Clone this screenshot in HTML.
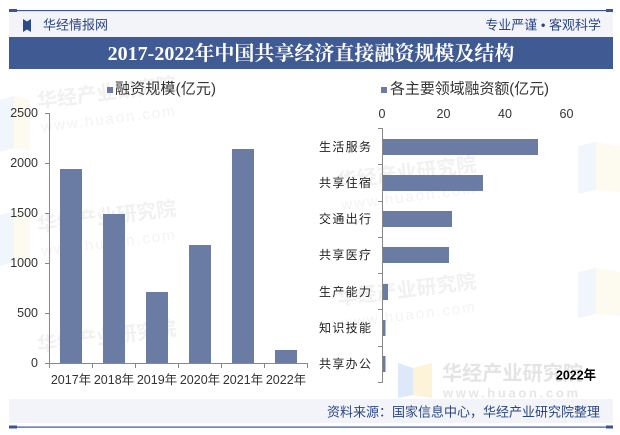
<!DOCTYPE html>
<html><head><meta charset="utf-8"><style>
html,body{margin:0;padding:0;background:#fff;}
svg{display:block;}
text{font-family:"Liberation Sans","Noto Sans CJK SC",sans-serif;}
</style></head><body>
<svg width="620" height="435" viewBox="0 0 620 435" xmlns="http://www.w3.org/2000/svg">
<rect x="0" y="0" width="620" height="435" fill="#fff"/>
<!-- faint watermarks -->
<g opacity="0.55">
<polygon points="0,100 14,96 14,148 0,152" fill="#e6eefa"/>
<polygon points="14,96 30,100 30,150 14,148" fill="#fdf6e2"/>
<polygon points="0,215 14,211 14,262 0,266" fill="#e6eefa"/>
<polygon points="14,211 30,215 30,264 14,262" fill="#fdf6e2"/>
<polygon points="578,146 596,142 596,190 578,194" fill="#e6eefa"/>
<polygon points="596,142 620,146 620,192 596,190" fill="#fdf6e2"/>
<polygon points="578,272 596,268 596,314 578,318" fill="#e6eefa"/>
<polygon points="596,268 620,272 620,316 596,314" fill="#fdf6e2"/>
</g>
<g fill="#f1f1f1" font-size="20" font-weight="bold">
<text x="38" y="108" transform="rotate(-7 38 108)">华经产业研究院</text>
<text x="38" y="232" transform="rotate(-7 38 232)">华经产业研究院</text>
<text x="38" y="352" transform="rotate(-7 38 352)">华经产业研究院</text>
<text x="338" y="188" transform="rotate(-7 338 188)">华经产业研究院</text>
<text x="338" y="305" transform="rotate(-7 338 305)">华经产业研究院</text>
</g>
<g fill="#f3f3f3" font-size="15">
<text x="42" y="132" transform="rotate(-7 42 132)" letter-spacing="2">www.huaon.com</text>
<text x="42" y="256" transform="rotate(-7 42 256)" letter-spacing="2">www.huaon.com</text>
<text x="342" y="210" transform="rotate(-7 342 210)" letter-spacing="2">www.huaon.com</text>
<text x="342" y="328" transform="rotate(-7 342 328)" letter-spacing="2">www.huaon.com</text>
</g>
<!-- bottom right watermark -->
<polygon points="398,363 413,368 413,395 398,398" fill="#dde8fa"/>
<polygon points="413,368 432,363 432,398 413,395" fill="#fdf3d8"/>
<text x="442" y="374" dominant-baseline="central" font-size="20" font-weight="bold" fill="#e4e4e4" textLength="141" lengthAdjust="spacingAndGlyphs">华经产业研究院</text>
<text x="443" y="393" dominant-baseline="central" font-size="13" font-weight="bold" fill="#e6e6e6" textLength="135" lengthAdjust="spacing">www.huaon.com</text>

<!-- top line -->
<rect x="9" y="10" width="604" height="1.2" fill="#3b5692"/>
<rect x="9" y="9" width="8" height="3" fill="#3b5692"/>
<rect x="606" y="9" width="7" height="3" fill="#3b5692"/>
<!-- header band -->
<rect x="9" y="12" width="604" height="25" fill="#f2f4f9"/>
<polygon points="23,19 27,21.5 31,19 31,32 27,29.5 23,32" fill="#2d4a8c"/>
<text x="43" y="25" dominant-baseline="central" font-size="13" fill="#2b4585" textLength="65" lengthAdjust="spacing">华经情报网</text>
<text x="601" y="25" dominant-baseline="central" text-anchor="end" font-size="13" fill="#2b4585">专业严谨 • 客观科学</text>
<!-- title band -->
<rect x="9" y="37" width="604" height="32" fill="#405b94"/>
<text x="311" y="54" dominant-baseline="central" text-anchor="middle" font-size="20" font-weight="bold" fill="#fff" font-family="'Liberation Serif','Noto Serif CJK SC',serif" style="font-family:'Liberation Serif','Noto Serif CJK SC',serif">2017-2022年中国共享经济直接融资规模及结构</text>

<!-- left legend -->
<rect x="107" y="87" width="6" height="6" fill="#6a7ca4"/>
<text x="115" y="89" dominant-baseline="central" font-size="15" fill="#333" textLength="101" lengthAdjust="spacing">融资规模(亿元)</text>
<!-- right legend -->
<rect x="381" y="87" width="6" height="6" fill="#6a7ca4"/>
<text x="390" y="89" dominant-baseline="central" font-size="15" fill="#333" textLength="159" lengthAdjust="spacing">各主要领域融资额(亿元)</text>

<!-- left chart -->
<g stroke="#888" stroke-width="1" fill="none">
<line x1="49.5" y1="113" x2="49.5" y2="363.5"/>
<line x1="49" y1="363.5" x2="307.5" y2="363.5"/>
<line x1="45" y1="113.5" x2="49" y2="113.5"/>
<line x1="45" y1="163.5" x2="49" y2="163.5"/>
<line x1="45" y1="213.5" x2="49" y2="213.5"/>
<line x1="45" y1="263.5" x2="49" y2="263.5"/>
<line x1="45" y1="313.5" x2="49" y2="313.5"/>
<line x1="45" y1="363.5" x2="49" y2="363.5"/>
<line x1="49.5" y1="363" x2="49.5" y2="368"/>
<line x1="92.5" y1="363" x2="92.5" y2="368"/>
<line x1="135.5" y1="363" x2="135.5" y2="368"/>
<line x1="178.5" y1="363" x2="178.5" y2="368"/>
<line x1="221.5" y1="363" x2="221.5" y2="368"/>
<line x1="264.5" y1="363" x2="264.5" y2="368"/>
<line x1="307.5" y1="363" x2="307.5" y2="368"/>
</g>
<g font-size="12.5" fill="#333" text-anchor="end">
<text x="38" y="113" dominant-baseline="central">2500</text>
<text x="38" y="163" dominant-baseline="central">2000</text>
<text x="38" y="213" dominant-baseline="central">1500</text>
<text x="38" y="263" dominant-baseline="central">1000</text>
<text x="38" y="313" dominant-baseline="central">500</text>
<text x="38" y="363" dominant-baseline="central">0</text>
</g>
<g fill="#6a7ca4">
<rect x="60" y="169" width="22" height="194"/>
<rect x="103" y="214" width="22" height="149"/>
<rect x="146" y="292" width="22" height="71"/>
<rect x="189" y="245" width="22" height="118"/>
<rect x="232" y="149" width="22" height="214"/>
<rect x="275" y="350" width="22" height="13"/>
</g>
<g font-size="12.5" fill="#333" text-anchor="middle">
<text x="71" y="380" dominant-baseline="central">2017年</text>
<text x="114" y="380" dominant-baseline="central">2018年</text>
<text x="157" y="380" dominant-baseline="central">2019年</text>
<text x="200" y="380" dominant-baseline="central">2020年</text>
<text x="243" y="380" dominant-baseline="central">2021年</text>
<text x="286" y="380" dominant-baseline="central">2022年</text>
</g>

<!-- right chart -->
<g font-size="12.5" fill="#333" text-anchor="middle">
<text x="382" y="114" dominant-baseline="central">0</text>
<text x="443.5" y="114" dominant-baseline="central">20</text>
<text x="505" y="114" dominant-baseline="central">40</text>
<text x="566.5" y="114" dominant-baseline="central">60</text>
</g>
<g stroke="#888" stroke-width="1" fill="none">
<line x1="382.5" y1="128" x2="382.5" y2="383"/>
<line x1="378" y1="128.5" x2="382" y2="128.5"/>
<line x1="378" y1="164.5" x2="382" y2="164.5"/>
<line x1="378" y1="201.5" x2="382" y2="201.5"/>
<line x1="378" y1="237.5" x2="382" y2="237.5"/>
<line x1="378" y1="273.5" x2="382" y2="273.5"/>
<line x1="378" y1="309.5" x2="382" y2="309.5"/>
<line x1="378" y1="346.5" x2="382" y2="346.5"/>
<line x1="378" y1="382.5" x2="382" y2="382.5"/>
</g>
<g fill="#6a7ca4">
<rect x="383" y="139" width="155" height="16"/>
<rect x="383" y="175" width="100" height="16"/>
<rect x="383" y="211" width="69" height="16"/>
<rect x="383" y="247" width="66" height="16"/>
<rect x="383" y="284" width="5" height="16"/>
<rect x="383" y="320" width="2.5" height="16"/>
<rect x="383" y="356" width="2.5" height="16"/>
</g>
<g font-size="12" fill="#222">
<text x="319" y="147" dominant-baseline="central" textLength="52" lengthAdjust="spacing">生活服务</text>
<text x="319" y="183" dominant-baseline="central" textLength="52" lengthAdjust="spacing">共享住宿</text>
<text x="319" y="219" dominant-baseline="central" textLength="52" lengthAdjust="spacing">交通出行</text>
<text x="319" y="255" dominant-baseline="central" textLength="52" lengthAdjust="spacing">共享医疗</text>
<text x="319" y="292" dominant-baseline="central" textLength="52" lengthAdjust="spacing">生产能力</text>
<text x="319" y="328" dominant-baseline="central" textLength="52" lengthAdjust="spacing">知识技能</text>
<text x="319" y="364" dominant-baseline="central" textLength="52" lengthAdjust="spacing">共享办公</text>
</g>
<text x="556" y="375" dominant-baseline="central" font-size="13" font-weight="bold" fill="#000" textLength="40" lengthAdjust="spacingAndGlyphs">2022年</text>

<!-- source band -->
<rect x="9" y="399" width="604" height="24" fill="#f2f4f9"/>
<text x="600" y="412" dominant-baseline="central" text-anchor="end" font-size="13" fill="#2b4585">资料来源：国家信息中心，华经产业研究院整理</text>
<rect x="9" y="426.5" width="604" height="1.2" fill="#3b5692"/>
<rect x="9" y="425.5" width="8" height="3" fill="#3b5692"/>
<rect x="606" y="425.5" width="7" height="3" fill="#3b5692"/>
</svg>
</body></html>
